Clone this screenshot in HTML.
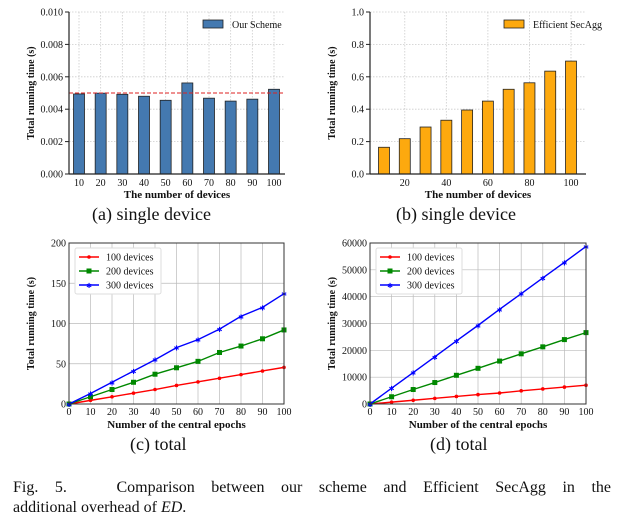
<!DOCTYPE html>
<html><head><meta charset="utf-8"><style>
body{margin:0;background:#fff;width:622px;height:524px;overflow:hidden;font-family:"Liberation Serif",serif}
svg{position:absolute;left:0;top:0}
.cap{position:absolute;font-size:18px;color:#111;white-space:nowrap}
.fig{position:absolute;left:13px;width:598px;font-size:16px;line-height:20px;text-align:justify;text-align-last:justify;color:#111}
</style></head><body>
<svg id="s" width="622" height="524"></svg>
<div class="cap" style="left:92px;top:204px">(a) single device</div>
<div class="cap" style="left:396px;top:204px">(b) single device</div>
<div class="cap" style="left:130px;top:434px">(c) total</div>
<div class="cap" style="left:430px;top:434px">(d) total</div>
<div class="fig" style="top:478px">Fig. 5. &nbsp;&nbsp;Comparison between our scheme and Efficient SecAgg in the</div>
<div class="fig" style="top:498px;text-align-last:left">additional overhead of <i>ED</i>.</div>
<script>
const devices=[10,20,30,40,50,60,70,80,90,100];
const ourScheme=[0.00494,0.00499,0.00492,0.00480,0.00455,0.00562,0.00468,0.00450,0.00462,0.00523];
const secAgg=[0.165,0.218,0.29,0.332,0.395,0.45,0.523,0.563,0.635,0.697];
const epochs=[0,10,20,30,40,50,60,70,80,90,100];
const c100=[0,4.5,9,13.5,18,23,27.5,32,36.5,41,45.5];
const c200=[0,9,18,27,37,45,53,64,72,81,92];
const c300=[0,13,27,41,55,70,80,93,109,120,137];
const d100=[0,700,1400,2100,2800,3500,4100,4900,5600,6300,7000];
const d200=[0,2700,5400,8000,10700,13300,16000,18700,21300,24000,26600];
const d300=[0,5900,11700,17600,23500,29300,35300,41100,47000,52800,58700];
const aTicks=["0.000","0.002","0.004","0.006","0.008","0.010"];
const bTicks=["0.0","0.2","0.4","0.6","0.8","1.0"];
const cTicks=[0,50,100,150,200];
const dTicks=[0,10000,20000,30000,40000,50000,60000];
const NS="http://www.w3.org/2000/svg";
const S=document.getElementById('s');
function el(t,a,p){const e=document.createElementNS(NS,t);for(const k in a)e.setAttribute(k,a[k]);(p||S).appendChild(e);return e;}
function txt(x,y,s,a,p){const e=el('text',Object.assign({x:x,y:y,'font-size':10,'font-family':'Liberation Serif, serif',fill:'#111'},a||{}),p);e.textContent=s;return e;}

function frame(g,L,R,T,B,xlab,ylab,box){
  if(box){el('rect',{x:L,y:T,width:R-L,height:B-T,fill:'none',stroke:'#333','stroke-width':1},g);}
  else{el('line',{x1:L,y1:T,x2:L,y2:B,stroke:'#222','stroke-width':1.2},g);el('line',{x1:L,y1:B,x2:R,y2:B,stroke:'#222','stroke-width':1.2},g);}
  const xt=txt((L+R)/2,B+24,xlab,{'text-anchor':'middle','font-weight':'bold','font-size':11},g);
  
  const yt=txt(0,0,ylab,{'text-anchor':'middle','font-weight':'bold','font-size':10,transform:`translate(${L-35},${(T+B)/2}) rotate(-90)`},g);
  
}

// ---- bar charts
function barChart(name,L,R,T,B,vals,ymax,ticks,color,xtickList,legend,dashY,barX0,barX1){
  const g=el('g',{});
  const y=v=>B-(v/ymax)*(B-T);
  const bx=i=>barX0+(barX1-barX0)*i/(vals.length-1);
  // grid
  ticks.forEach((t,i)=>{const yy=B-(B-T)*i/(ticks.length-1);
    el('line',{x1:L,y1:yy,x2:R,y2:yy,stroke:'#ccc','stroke-dasharray':'1.5,1.5','stroke-width':0.8},g);
    el('line',{x1:L-4,y1:yy,x2:L,y2:yy,stroke:'#222'},g);
    txt(L-6,yy+3.5,t,{'text-anchor':'end'},g);});
  xtickList.forEach(i=>{const xx=bx(i);
    el('line',{x1:xx,y1:T,x2:xx,y2:B,stroke:'#ccc','stroke-dasharray':'1.5,1.5','stroke-width':0.8},g);
    txt(xx,B+12,devices[i],{'text-anchor':'middle'},g);});
  vals.forEach((v,i)=>{const r=el('rect',{x:bx(i)-5.5,y:y(v),width:11,height:B-y(v),fill:color,stroke:'#222','stroke-width':0.8},g);
    });
  el('line',{x1:L,y1:y(dashY),x2:R,y2:y(dashY),stroke:'#d22','stroke-dasharray':'4,2','stroke-width':1},g);
  frame(g,L,R,T,B,'The number of devices','Total running time (s)',false);
  const lg=el('g',{},g);
  el('rect',{x:R-82,y:20,width:20,height:8,fill:color,stroke:'#222','stroke-width':0.8},lg);
  txt(R-53,28,legend,{},lg);
}
barChart('chart-a-our-scheme',69,285,12,174,ourScheme,0.010,aTicks,'#4479b0',[0,1,2,3,4,5,6,7,8,9],'Our Scheme',0.005,79,274);
barChart('chart-b-efficient-secagg',370,586,12,174,secAgg,1.0,bTicks,'#fda90e',[1,3,5,7,9],'Efficient SecAgg',0,384,571);

// ---- line charts
function lineChart(name,L,R,T,B,ymax,ticks,series){
  const g=el('g',{});
  const x=v=>L+(v/100)*(R-L), y=v=>B-(v/ymax)*(B-T);
  ticks.forEach(t=>{const yy=y(t);el('line',{x1:L,y1:yy,x2:R,y2:yy,stroke:'#bbb','stroke-width':0.7},g);
    txt(L-3,yy+3.5,t,{'text-anchor':'end'},g);});
  epochs.forEach(e=>{const xx=x(e);el('line',{x1:xx,y1:T,x2:xx,y2:B,stroke:'#bbb','stroke-width':0.7},g);
    txt(xx,B+11,e,{'text-anchor':'middle'},g);});
  series.forEach(s=>{
    const p=el('polyline',{points:epochs.map((e,i)=>x(e)+','+y(s.v[i])).join(' '),fill:'none',stroke:s.c,'stroke-width':1.4},g);
    
    epochs.forEach((e,i)=>mark(g,x(e),y(s.v[i]),s));
  });
  frame(g,L,R,T,B,'Number of the central epochs','Total running time (s)',true);
  const lg=el('g',{},g);
  const lx=L+6,ly=T+5;
  el('rect',{x:lx,y:ly,width:86,height:46,fill:'#fff',stroke:'#ddd',rx:2},lg);
  series.forEach((s,i)=>{const yy=ly+9+i*14;
    el('line',{x1:lx+4,y1:yy,x2:lx+24,y2:yy,stroke:s.c,'stroke-width':1.4},lg);mark(lg,lx+14,yy,s);
    txt(lx+31,yy+3.5,s.n+' devices',{},lg);});
}
function mark(g,cx,cy,s){
  if(s.m==='o')el('circle',{cx:cx,cy:cy,r:1.8,fill:s.c},g);
  else if(s.m==='s')el('rect',{x:cx-2.5,y:cy-2.5,width:5,height:5,fill:s.c},g);
  else txt(cx,cy+3,'✱',{'text-anchor':'middle','font-size':7,fill:s.c,'font-family':'DejaVu Sans'},g);
}
lineChart('chart-c-total',69,284,243,404,200,cTicks,[{n:100,v:c100,c:'#f00',m:'o'},{n:200,v:c200,c:'#080',m:'s'},{n:300,v:c300,c:'#00f',m:'*'}]);
lineChart('chart-d-total',370,586,243,404,60000,dTicks,[{n:100,v:d100,c:'#f00',m:'o'},{n:200,v:d200,c:'#080',m:'s'},{n:300,v:d300,c:'#00f',m:'*'}]);
</script>
</body></html>
